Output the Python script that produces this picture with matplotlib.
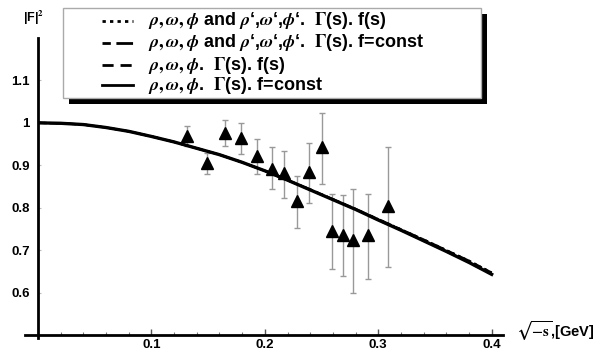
import matplotlib
matplotlib.use("Agg")
import matplotlib.pyplot as plt
from matplotlib.patches import Rectangle
from matplotlib.lines import Line2D

plt.rcParams['font.family'] = ['Liberation Sans', 'DejaVu Sans']
plt.rcParams['font.weight'] = 'bold'
plt.rcParams['mathtext.fontset'] = 'stix'

# Measured points with error bars
data_x = [0.131, 0.149, 0.165, 0.179, 0.193, 0.206, 0.217, 0.228, 0.239, 0.250,
          0.259, 0.269, 0.278, 0.291, 0.309]
data_y = [0.969, 0.905, 0.976, 0.965, 0.922, 0.892, 0.882, 0.817, 0.884, 0.942,
          0.746, 0.736, 0.724, 0.735, 0.805]
err_hi = [0.992, 0.929, 1.006, 1.000, 0.963, 0.942, 0.934, 0.874, 0.953, 1.024,
          0.833, 0.829, 0.843, 0.833, 0.943]
err_lo = [0.946, 0.879, 0.945, 0.926, 0.879, 0.843, 0.824, 0.753, 0.811, 0.855,
          0.656, 0.638, 0.600, 0.632, 0.661]

# Model curves
curve_x = [0.00, 0.02, 0.04, 0.06, 0.08, 0.10, 0.12, 0.14, 0.16, 0.18, 0.20,
           0.22, 0.24, 0.26, 0.28, 0.30, 0.32, 0.34, 0.36, 0.38, 0.40]
curve_const = [1.000, 0.999, 0.996, 0.989, 0.980, 0.968, 0.955, 0.940, 0.925, 0.907, 0.887,
               0.865, 0.842, 0.819, 0.796, 0.771, 0.747, 0.722, 0.697, 0.671, 0.643]
curve_fs = [1.000, 0.999, 0.996, 0.989, 0.980, 0.968, 0.955, 0.940, 0.925, 0.907, 0.887,
            0.865, 0.843, 0.820, 0.797, 0.773, 0.749, 0.725, 0.700, 0.675, 0.647]

legend_labels = [
    r"$\rho,\omega,\phi$ and $\rho$‘,$\omega$‘,$\phi$‘.  $\Gamma$(s). f(s)",
    r"$\rho,\omega,\phi$ and $\rho$‘,$\omega$‘,$\phi$‘.  $\Gamma$(s). f=const",
    r"$\rho,\omega,\phi$.  $\Gamma$(s). f(s)",
    r"$\rho,\omega,\phi$.  $\Gamma$(s). f=const",
]
legend_styles = [(0, (1.2, 1.5)), (0, (3, 2, 6, 2)), (0, (4, 2.5)), '-']

x_ticks = [0.1, 0.2, 0.3, 0.4]
y_ticks = [0.6, 0.7, 0.8, 0.9, 1.0, 1.1]
y_tick_labels = ['0.6', '0.7', '0.8', '0.9', '1', '1.1']

W, H = 600, 356
fig = plt.figure(figsize=(6, 3.56), dpi=100)
ax = fig.add_axes([38 / W, 21 / H, 465 / W, 297 / H])
ax.set_xlim(0, 0.41)
ax.set_ylim(0.5, 1.2)

# curves
ax.plot(curve_x, curve_fs, color='black', lw=1.6, ls=legend_styles[0], zorder=3)
ax.plot(curve_x, curve_fs, color='black', lw=1.6, ls=legend_styles[1], zorder=3)
ax.plot(curve_x, curve_const, color='black', lw=1.6, ls=legend_styles[2], zorder=3)
ax.plot(curve_x, curve_const, color='black', lw=2.4, ls='-', zorder=3)

# data
yerr = [[y - lo for y, lo in zip(data_y, err_lo)], [hi - y for y, hi in zip(data_y, err_hi)]]
ax.errorbar(data_x, data_y, yerr=yerr, fmt='none', ecolor='#999999', elinewidth=1,
            capsize=2.5, capthick=1, zorder=2)
ax.plot(data_x, data_y, '^', color='black', ms=8, zorder=4)

# Mathematica-like axes
for s in ['top', 'right']:
    ax.spines[s].set_visible(False)
ax.spines['left'].set_linewidth(2)
ax.spines['bottom'].set_linewidth(2)
ax.spines['bottom'].set_bounds(-0.0115, 0.41)
ax.spines['left'].set_bounds(0.493, 1.2)

ax.set_xticks(x_ticks)
ax.set_xticklabels([f"{v:g}" for v in x_ticks])
ax.set_xticks([i * 0.02 for i in range(1, 21) if i % 5], minor=True)
ax.tick_params(axis='x', which='major', direction='in', length=4, width=1, color='#555555',
               labelsize=9.5, pad=3)
ax.tick_params(axis='x', which='minor', direction='in', length=2.5, width=0.8, color='#777777')
ax.set_yticks(y_ticks)
ax.set_yticklabels(y_tick_labels)
ax.tick_params(axis='y', which='major', direction='in', length=2, width=0.8, color='#bbbbbb',
               labelsize=9.5, pad=6)

fig.text(34 / W, 1 - 18 / H, r"|F|$^2$", ha='center', va='center', fontsize=9)
fig.text(516 / W, 1 - 331 / H, r"$\sqrt{-\mathsf{s}}$,[GeV]", ha='left', va='center', fontsize=10.5)

# legend box with hard shadow
bx0, by0, bx1, by1 = 62.7, 8.3, 481, 98
fig.add_artist(Rectangle(((bx0 + 6) / W, 1 - (by1 + 6) / H), (bx1 - bx0) / W, (by1 - by0) / H,
                         transform=fig.transFigure, facecolor='black', edgecolor='none', zorder=5))
fig.add_artist(Rectangle((bx0 / W, 1 - by1 / H), (bx1 - bx0) / W, (by1 - by0) / H,
                         transform=fig.transFigure, facecolor='white', edgecolor='#aaaaaa',
                         lw=1, zorder=6))
row_y = [20.7, 42.7, 65, 85]
for ry, lab, st in zip(row_y, legend_labels, legend_styles):
    fig.add_artist(Line2D([102 / W, 133 / W], [1 - ry / H, 1 - ry / H], transform=fig.transFigure,
                          color='black', lw=2, ls=st, zorder=7))
    fig.text(148 / W, 1 - ry / H, lab, ha='left', va='center', fontsize=13, zorder=7)

fig.savefig("out.png", dpi=100)
